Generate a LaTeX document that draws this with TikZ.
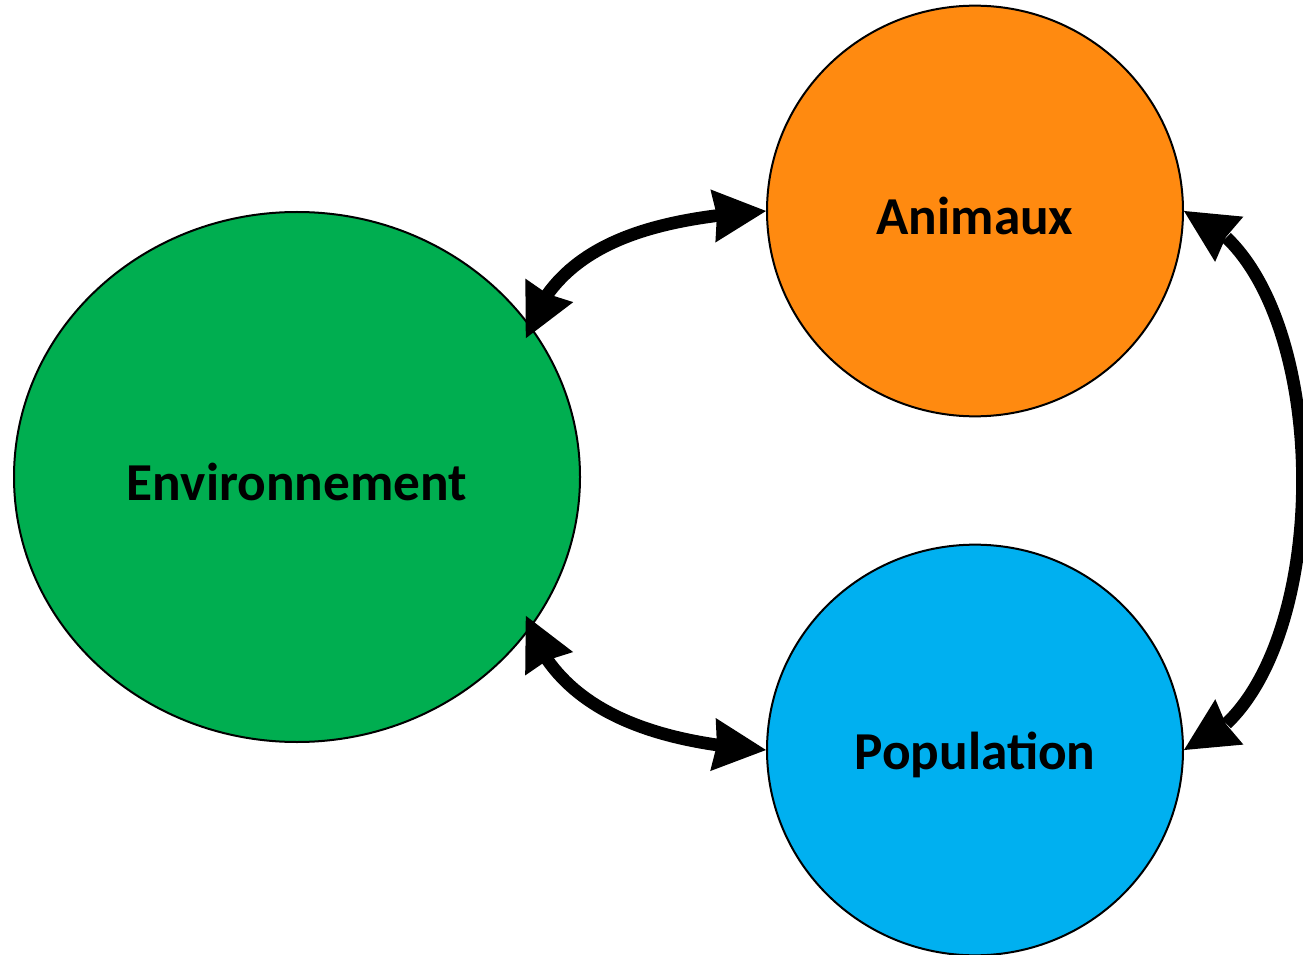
\documentclass[tikz,border=0pt]{standalone}
\usepackage{fontspec}
\setmainfont{Carlito}
\usetikzlibrary{shapes.geometric,arrows.meta,bending}
\definecolor{envgreen}{HTML}{00AE50}
\definecolor{animorange}{HTML}{FF8A10}
\definecolor{popblue}{HTML}{00B0F0}
\newcommand{\lowtext}[1]{\raisebox{-3.5pt}[\height][\depth]{#1}}
\begin{document}
\begin{tikzpicture}[x=0.75pt,y=-0.75pt,
  blob/.style={ellipse,draw=black,line width=1.5pt,inner sep=0pt,font=\fontsize{40}{48}\selectfont\bfseries},
  link/.style={line width=9.5pt,{Stealth[length=40pt,width=40pt,inset=3pt,line width=0pt]}-{Stealth[length=40pt,width=40pt,inset=3pt,line width=0pt]}}]
\clip (0,0) rectangle (1303,955);
\node[blob,fill=envgreen,minimum width=424.5pt,minimum height=397.5pt] (env) at (297,477) {\lowtext{Environnement}};
\node[blob,fill=animorange,minimum width=312pt,minimum height=308pt] (anim) at (975,211) {\lowtext{Animaux}};
\node[blob,fill=popblue,minimum width=312pt,minimum height=308pt] (pop) at (975,750) {\lowtext{Population}};
\draw[link,shorten <=-10pt] (env.33) .. controls (565,240) and (660,218) .. (anim.west);
\draw[link,shorten <=-10pt] (env.-33) .. controls (565,714) and (660,743) .. (pop.west);
\draw[link] (anim.east) .. controls (1342,265) and (1342,697) .. (pop.east);
\end{tikzpicture}
\end{document}
